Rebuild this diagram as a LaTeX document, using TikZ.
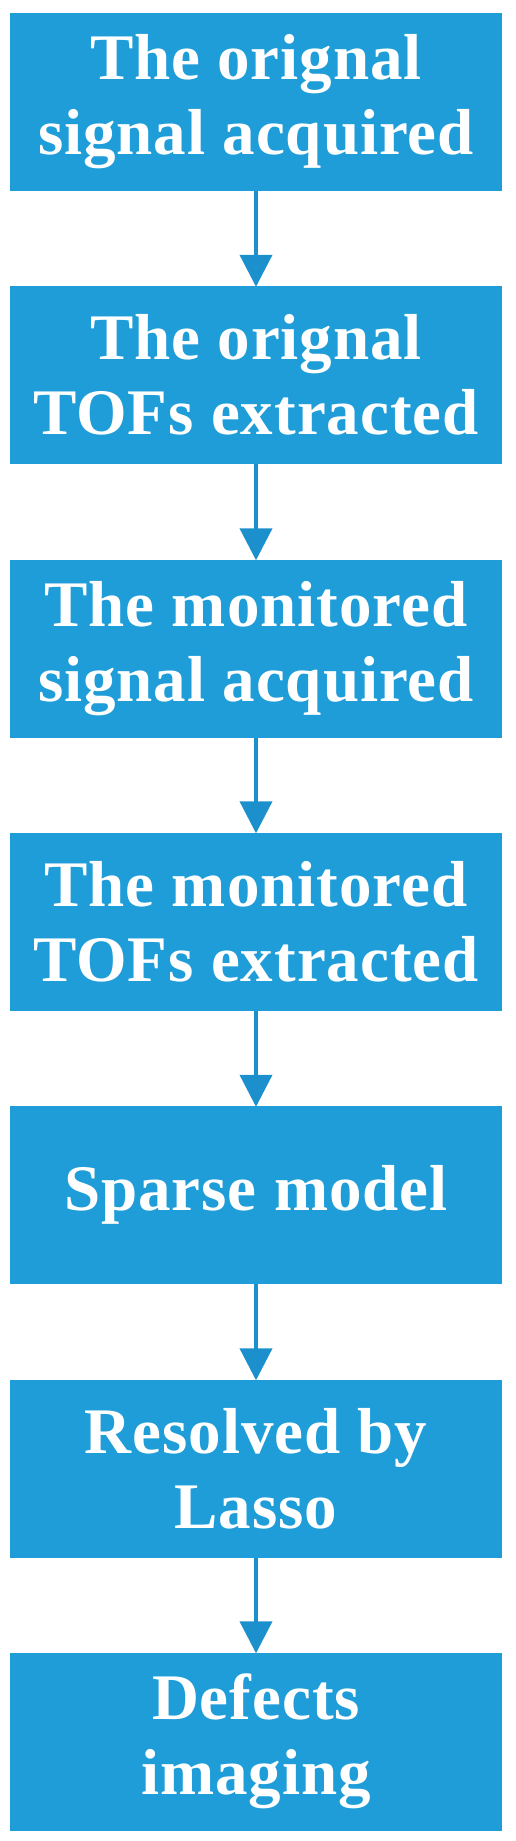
\documentclass[tikz,border=0pt]{standalone}
\usepackage{fontspec}
\setmainfont{Liberation Serif}[LetterSpace=1.5]
\usetikzlibrary{arrows.meta}
\definecolor{boxblue}{RGB}{31,157,216}
\definecolor{arrowblue}{RGB}{28,144,205}
\begin{document}
\begin{tikzpicture}[x=1pt,y=-1pt,
  stepbox/.style={rectangle, fill=boxblue, draw=none, minimum width=492pt, minimum height=178pt,
    inner sep=0pt, align=center, text=white,
    font=\bfseries\fontsize{65}{75}\selectfont},
  flow/.style={draw=arrowblue, line width=4pt, -{Triangle[length=32pt,width=32pt,fill=arrowblue]}, shorten >=-1pt}]
\useasboundingbox (0,0) rectangle (515,1841);
\node[stepbox] (b1) at (256,102)    {The orignal\\signal acquired};
\node[stepbox] (b2) at (256,375)    {The orignal\\TOFs extracted};
\node[stepbox] (b3) at (256,648.5)  {The monitored\\signal acquired};
\node[stepbox] (b4) at (256,921.5)  {The monitored\\TOFs extracted};
\node[stepbox] (b5) at (256,1195)   {Sparse model};
\node[stepbox] (b6) at (256,1468.5) {Resolved by\\Lasso};
\node[stepbox] (b7) at (256,1741.5) {Defects\\imaging};
\draw[flow] (b1) -- (b2);
\draw[flow] (b2) -- (b3);
\draw[flow] (b3) -- (b4);
\draw[flow] (b4) -- (b5);
\draw[flow] (b5) -- (b6);
\draw[flow] (b6) -- (b7);
\end{tikzpicture}
\end{document}
